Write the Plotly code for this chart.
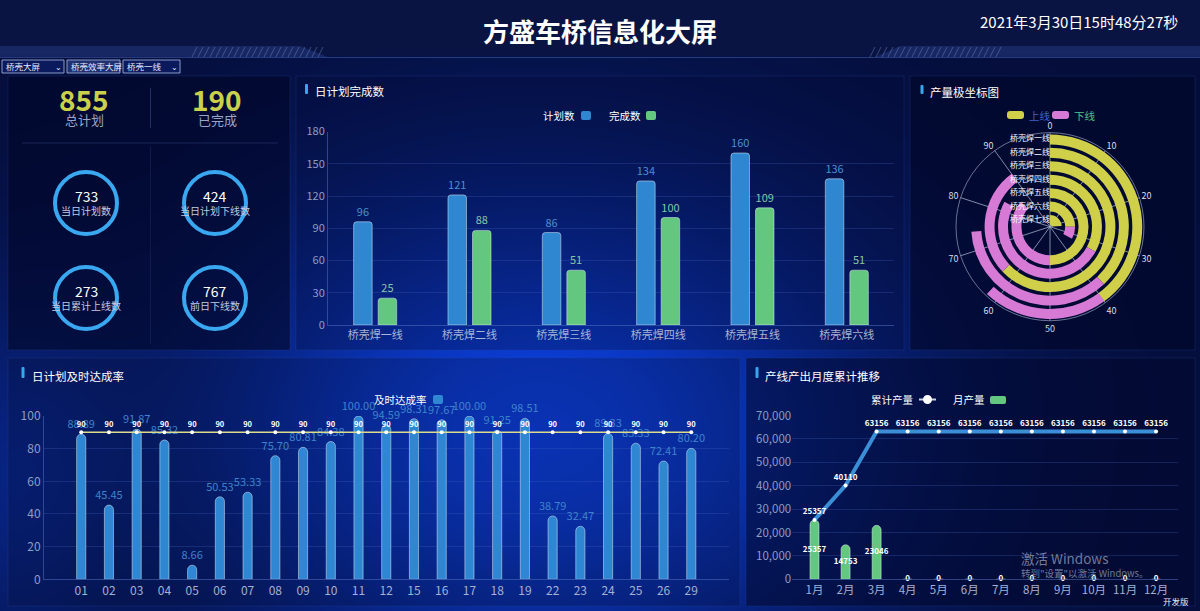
import base64
import struct
import zlib

import numpy as np
import plotly.graph_objects as go

W, H = 1200, 611
FONT = "Noto Sans CJK SC"

# ---------------- data ----------------
title_text = "方盛车桥信息化大屏"
date_text = "2021年3月30日15时48分27秒"
selector_texts = ["桥壳大屏", "桥壳效率大屏", "桥壳一线"]

kpi_top_values = [855, 190]
kpi_top_labels = ["总计划", "已完成"]
kpi_ring_values = [733, 424, 273, 767]
kpi_ring_labels = ["当日计划数", "当日计划下线数", "当日累计上线数", "前日下线数"]

line_names = ["桥壳焊一线", "桥壳焊二线", "桥壳焊三线", "桥壳焊四线", "桥壳焊五线", "桥壳焊六线"]
plan_counts = [96, 121, 86, 134, 160, 136]
done_counts = [25, 88, 51, 100, 109, 51]

polar_names = ["桥壳焊一线", "桥壳焊二线", "桥壳焊三线", "桥壳焊四线", "桥壳焊五线", "桥壳焊六线", "桥壳焊七线"]
polar_up = [40, 38, 63, 33, 50, 25, 24]
polar_down = [22, 36, 27, 50, 36, 8, 0]
polar_angle_ticks = [0, 10, 20, 30, 40, 50, 60, 70, 80, 90]
polar_angle_max = 100

days = ["01", "02", "03", "04", "05", "06", "07", "08", "09", "10", "11", "12",
        "15", "16", "17", "18", "19", "22", "23", "24", "25", "26", "29"]
ontime_rate = [88.89, 45.45, 91.87, 85.32, 8.66, 50.53, 53.33, 75.70, 80.81, 84.38, 100.00, 94.59,
               98.31, 97.67, 100.00, 91.25, 98.51, 38.79, 32.47, 89.33, 83.33, 72.41, 80.20]
target_rate = [90, 90, 90, 90, 90, 90, 90, 90, 90, 90, 90, 90,
               90, 90, 90, 90, 90, 90, 90, 90, 90, 90, 90]

months = ["1月", "2月", "3月", "4月", "5月", "6月", "7月", "8月", "9月", "10月", "11月", "12月"]
monthly_output = [25357, 14753, 23046, 0, 0, 0, 0, 0, 0, 0, 0, 0]
cumulative_output = [25357, 40110, 63156, 63156, 63156, 63156, 63156, 63156, 63156, 63156, 63156, 63156]

# ---------------- helpers ----------------
def fx(x):
    return x / W


def fy(y):
    return 1 - y / H


def png_data_uri(arr):
    h, w, _ = arr.shape
    raw = b"".join(b"\x00" + arr[i].tobytes() for i in range(h))

    def chunk(t, d):
        c = struct.pack(">I", len(d)) + t + d
        return c + struct.pack(">I", zlib.crc32(t + d) & 0xFFFFFFFF)

    png = (b"\x89PNG\r\n\x1a\n"
           + chunk(b"IHDR", struct.pack(">IIBBBBB", w, h, 8, 2, 0, 0, 0))
           + chunk(b"IDAT", zlib.compress(raw, 9))
           + chunk(b"IEND", b""))
    return "data:image/png;base64," + base64.b64encode(png).decode()


# background gradient image (half resolution, stretched)
bh, bw = H // 2, W // 2
yy, xx = np.mgrid[0:bh, 0:bw].astype(float)
px_x = (xx + 0.5) * 2
px_y = (yy + 0.5) * 2
base = np.array([5, 14, 58], float)
glow = np.array([12, 64, 222], float)
w1 = np.exp(-(((px_x - 540) / 340) ** 2 + ((px_y - 430) / 250) ** 2))
w2 = 0.35 * np.exp(-(((px_x - 0) / 120) ** 2 + ((px_y - 480) / 200) ** 2))
wsum = np.clip(w1 + w2, 0, 1)[..., None]
img = base * (1 - wsum) + glow * wsum
header = px_y < 57
img[header] = np.array([10, 20, 66], float)
bg_uri = png_data_uri(np.clip(img, 0, 255).astype(np.uint8))

shapes = []
annotations = []


def rect(x0, y0, x1, y1, fill, line=None, lw=0, layer="below"):
    shapes.append(dict(type="rect", xref="paper", yref="paper",
                       x0=fx(x0), x1=fx(x1), y0=fy(y1), y1=fy(y0),
                       fillcolor=fill, line=dict(color=line or "rgba(0,0,0,0)", width=lw),
                       layer=layer))


def rrect(x0, y0, x1, y1, r, fill, layer="above"):
    X0, X1 = fx(x0), fx(x1)
    Y0, Y1 = fy(y0), fy(y1)
    rx, ry = r / W, r / H
    p = (f"M {X0+rx},{Y0} L {X1-rx},{Y0} Q {X1},{Y0} {X1},{Y0-ry} "
         f"L {X1},{Y1+ry} Q {X1},{Y1} {X1-rx},{Y1} L {X0+rx},{Y1} "
         f"Q {X0},{Y1} {X0},{Y1+ry} L {X0},{Y0-ry} Q {X0},{Y0} {X0+rx},{Y0} Z")
    shapes.append(dict(type="path", xref="paper", yref="paper", path=p,
                       fillcolor=fill, line=dict(width=0), layer=layer))


def hline(x0, x1, y, color, width=1, layer="below"):
    shapes.append(dict(type="line", xref="paper", yref="paper",
                       x0=fx(x0), x1=fx(x1), y0=fy(y), y1=fy(y),
                       line=dict(color=color, width=width), layer=layer))


def vline(x, y0, y1, color, width=1, layer="below"):
    shapes.append(dict(type="line", xref="paper", yref="paper",
                       x0=fx(x), x1=fx(x), y0=fy(y0), y1=fy(y1),
                       line=dict(color=color, width=width), layer=layer))


def text(x, y, s, size=12, color="#ffffff", anchor="center", weight="normal"):
    annotations.append(dict(xref="paper", yref="paper", x=fx(x), y=fy(y), text=s,
                            showarrow=False, xanchor=anchor, yanchor="middle",
                            font=dict(family=FONT, size=size, color=color, weight=weight)))


def circle(cx, cy, r, color, width, fill="rgba(0,0,0,0)"):
    shapes.append(dict(type="circle", xref="paper", yref="paper",
                       xsizemode="pixel", ysizemode="pixel",
                       xanchor=fx(cx), yanchor=fy(cy),
                       x0=-r, x1=r, y0=-r, y1=r,
                       line=dict(color=color, width=width), fillcolor=fill,
                       layer="above"))


# ---------------- header ----------------
text(600, 30, title_text, size=26, color="#ffffff", weight="bold")
text(1079, 22, date_text, size=15, color="#ffffff")
shapes.append(dict(type="path", xref="paper", yref="paper", layer="below",
                   path=f"M 0,{fy(46)} L {fx(300)},{fy(46)} L {fx(328)},{fy(57)} L 0,{fy(57)} Z",
                   fillcolor="rgba(40,62,140,0.45)", line=dict(width=0)))
shapes.append(dict(type="path", xref="paper", yref="paper", layer="below",
                   path=f"M {fx(875)},{fy(57)} L {fx(900)},{fy(46)} L {fx(1200)},{fy(46)} L {fx(1200)},{fy(57)} Z",
                   fillcolor="rgba(40,62,140,0.45)", line=dict(width=0)))
for k in range(22):
    x = 192 + k * 6
    shapes.append(dict(type="line", xref="paper", yref="paper", layer="below",
                       x0=fx(x), x1=fx(x + 5), y0=fy(57), y1=fy(47),
                       line=dict(color="rgba(120,140,200,0.45)", width=1)))
for k in range(22):
    x = 870 + k * 6
    shapes.append(dict(type="line", xref="paper", yref="paper", layer="below",
                       x0=fx(x), x1=fx(x + 5), y0=fy(57), y1=fy(47),
                       line=dict(color="rgba(120,140,200,0.45)", width=1)))
hline(0, 1200, 57.5, "rgba(60,90,170,0.6)", 1)

# selectors
sel_boxes = [(2, 64), (67, 120), (123, 180)]
for (x0, x1), s in zip(sel_boxes, selector_texts):
    fill = "#203070" if s == "桥壳效率大屏" else "#0b1a5c"
    rect(x0, 60, x1, 73, fill, line="#8a9ccc", lw=1, layer="above")
    text(x0 + 2, 66.5, s, size=8.5, color="#e6ecff", anchor="left")
for x1 in (64, 180):
    text(x1 - 6, 66.5, "⌄", size=8, color="#e6ecff")

# ---------------- panels ----------------
rect(8, 76, 290, 350, "rgba(2,6,40,0.62)", line="rgba(40,70,150,0.25)", lw=1)
rect(296, 76, 904, 350, "rgba(3,10,52,0.30)", line="rgba(40,70,150,0.25)", lw=1)
rect(910, 76, 1195, 350, "rgba(2,6,40,0.62)", line="rgba(40,70,150,0.25)", lw=1)
rect(8, 358, 740, 606, "rgba(3,10,52,0.26)", line="rgba(40,70,150,0.25)", lw=1)
rect(746, 358, 1195, 606, "rgba(2,8,44,0.55)", line="rgba(40,70,150,0.25)", lw=1)

# section titles
for (mx, my0, my1, tx, ty, s) in [
    (306.5, 84, 94, 313, 91, "日计划完成数"),
    (922, 85, 94, 928, 91.5, "产量极坐标图"),
    (23, 367, 378, 30, 376, "日计划及时达成率"),
    (757, 367, 378, 763, 376, "产线产出月度累计推移"),
]:
    rrect(mx - 1.5, my0, mx + 1.5, my1, 1, "#3aa6ee")
    text(tx, ty, s, size=11.5, color="#ffffff", anchor="left")

# ---------------- left KPI panel ----------------
for i, (v, lab) in enumerate(zip(kpi_top_values, kpi_top_labels)):
    cx = [84, 217][i]
    text(cx, 99, str(v), size=28, color="#cbd04b", weight="bold")
    text(cx, 120, lab, size=13, color="#9aa6c8")
vline(150.5, 88, 128, "rgba(70,90,150,0.45)")
hline(22, 278, 143, "rgba(70,90,150,0.35)")
vline(150.5, 146, 344, "rgba(70,90,150,0.2)")
ring_pos = [(86, 203), (215, 203), (86, 298), (215, 298)]
for (cx, cy), v, lab in zip(ring_pos, kpi_ring_values, kpi_ring_labels):
    circle(cx, cy, 31, "#3aa8f0", 4)
    text(cx, cy - 7, str(v), size=14, color="#ffffff")
    text(cx, cy + 7, lab, size=10, color="#c2cbe0")

# ---------------- legends (manual) ----------------
text(577, 115.5, "计划数", size=10.5, color="#ffffff", anchor="right")
rrect(581, 111, 591, 120, 2, "#2f87d1")
text(643, 115.5, "完成数", size=10.5, color="#ffffff", anchor="right")
rrect(646, 111, 656, 120, 2, "#63c77f")

text(429, 399.5, "及时达成率", size=10.5, color="#ffffff", anchor="right")
rrect(433, 395, 443, 404, 2, "#2f87d3")

text(916, 399.5, "累计产量", size=10.5, color="#ffffff", anchor="right")
hline(919, 936, 399.5, "#c8d0e4", 2, layer="above")
circle(927.5, 399.5, 3.5, "#ffffff", 2, fill="#ffffff")
text(987, 399.5, "月产量", size=10.5, color="#ffffff", anchor="right")
rrect(990, 396, 1006, 404, 2, "#63c77f")

rrect(1007, 111, 1024, 119, 3, "#cfcf49")
text(1027, 115, "上线", size=10.5, color="#3f63c8", anchor="left")
rrect(1052, 111, 1069, 119, 3, "#d67ad6")
text(1072, 115, "下线", size=10.5, color="#55c08c", anchor="left")

# watermark
text(1019, 558, "激活 Windows", size=13.5, color="rgba(150,160,190,0.75)", anchor="left")
text(1019, 573, "转到\"设置\"以激活 Windows。", size=9.5, color="rgba(150,160,190,0.75)", anchor="left")
text(1176, 601, "开发版", size=8.5, color="#e8ecf8")

# ---------------- figure ----------------
fig = go.Figure()

axis_font = dict(family=FONT, size=11, color="#8f9dc2")
grid_c = "rgba(70,100,190,0.28)"
line_c = "rgba(80,110,190,0.55)"

# Chart 1: 日计划完成数
fig.add_trace(go.Bar(x=line_names, y=plan_counts, name="计划数", marker=dict(color="#2f87d1", cornerradius=3),
                     text=plan_counts, textposition="outside", cliponaxis=False, constraintext="none",
                     textfont=dict(family=FONT, size=11, color="#4a8fd0"),
                     xaxis="x", yaxis="y"))
fig.add_trace(go.Bar(x=line_names, y=done_counts, name="完成数", marker=dict(color="#63c77f", cornerradius=3),
                     text=done_counts, textposition="outside", cliponaxis=False, constraintext="none",
                     textfont=dict(family=FONT, size=11, color="#86c6a6"),
                     xaxis="x", yaxis="y"))

# Chart 2: 日计划及时达成率
fig.add_trace(go.Bar(x=days, y=ontime_rate, width=0.33, marker=dict(color="#2f87d3", cornerradius=5),
                     text=[f"{v:.2f}" for v in ontime_rate], textposition="outside", cliponaxis=False,
                     constraintext="none",
                     textfont=dict(family=FONT, size=11, color="#3f83cc"),
                     xaxis="x2", yaxis="y2"))
fig.add_trace(go.Scatter(x=days, y=target_rate, mode="lines+markers+text",
                         line=dict(color="#dcdc8c", width=1.5),
                         marker=dict(color="#ffffff", size=4),
                         text=target_rate, textposition="top center", cliponaxis=False,
                         textfont=dict(family=FONT, size=7.5, color="#ffffff", weight="bold"),
                         xaxis="x2", yaxis="y2"))

# Chart 3: 产线产出月度累计推移
fig.add_trace(go.Bar(x=months, y=monthly_output, width=0.29, marker=dict(color="#63c77f", cornerradius=5),
                     xaxis="x3", yaxis="y3"))
fig.add_trace(go.Scatter(x=months, y=[v / 2 for v in monthly_output], mode="text",
                         text=monthly_output, textposition="middle center", cliponaxis=False,
                         textfont=dict(family=FONT, size=8, color="#ffffff", weight="bold"),
                         xaxis="x3", yaxis="y3"))
fig.add_trace(go.Scatter(x=months, y=cumulative_output, mode="lines+markers+text",
                         line=dict(color="#3a8fd6", width=4),
                         marker=dict(color="#ffffff", size=4),
                         text=cumulative_output, textposition="top center", cliponaxis=False,
                         textfont=dict(family=FONT, size=8, color="#ffffff", weight="bold"),
                         xaxis="x3", yaxis="y3"))

# Polar chart
deg_per_unit = 360 / polar_angle_max
n_rings = len(polar_names)
ring_index = [n_rings - 1 - i for i in range(n_rings)]  # 一线 outermost
fig.add_trace(go.Barpolar(
    theta=[u * deg_per_unit / 2 for u in polar_up],
    width=[u * deg_per_unit for u in polar_up],
    r=[0.74] * n_rings, base=[k + 0.13 for k in ring_index],
    marker=dict(color="#cfcf49", line=dict(width=0)), subplot="polar", name="上线"))
fig.add_trace(go.Barpolar(
    theta=[(u + d / 2) * deg_per_unit for u, d in zip(polar_up, polar_down)],
    width=[d * deg_per_unit for d in polar_down],
    r=[0.74] * n_rings, base=[k + 0.13 for k in ring_index],
    marker=dict(color="#d67ad6", line=dict(width=0)), subplot="polar", name="下线"))
fig.add_trace(go.Scatterpolar(
    theta=[0] * n_rings, r=[k + 0.5 for k in ring_index], mode="text",
    text=polar_names, textposition="middle left",
    textfont=dict(family=FONT, size=8, color="#ffffff"), subplot="polar"))

fig.update_layout(
    width=W, height=H, margin=dict(l=0, r=0, t=0, b=0, pad=0, autoexpand=False),
    paper_bgcolor="#050e3a", plot_bgcolor="rgba(0,0,0,0)",
    showlegend=False, barmode="group", bargap=0.48, bargroupgap=0.245,
    font=dict(family=FONT, color="#ffffff"),
    images=[dict(source=bg_uri, xref="paper", yref="paper", x=0, y=1, sizex=1, sizey=1,
                 sizing="stretch", layer="below")],
    shapes=shapes, annotations=annotations,
    xaxis=dict(domain=[fx(328), fx(894)], type="category", showgrid=False, automargin=False,
               showline=True, linecolor=line_c, tickfont=dict(family=FONT, size=11, color="#a9b5d6"),
               anchor="y", fixedrange=True),
    yaxis=dict(domain=[fy(325), fy(131.5)], range=[0, 180], dtick=30, gridcolor=grid_c, automargin=False,
               showline=True, linecolor=line_c, zeroline=False, tickfont=axis_font,
               anchor="x", fixedrange=True),
    xaxis2=dict(domain=[fx(44), fx(728.5)], type="category", showgrid=False, automargin=False,
                showline=True, linecolor=line_c, tickfont=dict(family=FONT, size=12, color="#a3b1d4"),
                anchor="y2", fixedrange=True),
    yaxis2=dict(domain=[fy(579.3), fy(416)], range=[0, 100], dtick=20, gridcolor=grid_c, automargin=False,
                showline=True, linecolor=line_c, zeroline=False,
                tickfont=dict(family=FONT, size=12, color="#8f9dc2"),
                anchor="x2", fixedrange=True),
    xaxis3=dict(domain=[fx(792.2), fx(1178.4)], type="category", showgrid=False, automargin=False,
                showline=True, linecolor=line_c, tickfont=dict(family=FONT, size=11.5, color="#a3b1d4"),
                anchor="y3", fixedrange=True),
    yaxis3=dict(domain=[fy(579.3), fy(415.5)], range=[0, 70000], dtick=10000, tickformat=",d",
                gridcolor=grid_c, showline=False, zeroline=False, automargin=False,
                tickfont=dict(family=FONT, size=11.5, color="#8f9dc2"),
                anchor="x3", fixedrange=True),
    polar=dict(
        domain=dict(x=[fx(956), fx(1144)], y=[fy(320.7), fy(132.7)]),
        bgcolor="rgba(0,0,0,0)",
        angularaxis=dict(rotation=90, direction="clockwise",
                         tickvals=[t * deg_per_unit for t in polar_angle_ticks],
                         ticktext=[str(t) for t in polar_angle_ticks],
                         showgrid=True, gridcolor="rgba(170,180,205,0.75)", gridwidth=1,
                         showline=True, linecolor="rgba(130,140,170,0.8)", linewidth=1,
                         ticks="", tickfont=dict(family=FONT, size=9, color="#d8deec")),
        radialaxis=dict(range=[0, n_rings], showgrid=False, showline=False,
                        showticklabels=False, ticks=""),
        barmode="overlay",
    ),
)

fig.write_html("out.html", config={"displayModeBar": False},
               post_script=("document.documentElement.style.margin='0';"
                            "document.body.style.margin='0';document.body.style.padding='0';"
                            "document.documentElement.style.background='#050e3a';"
                            "document.body.style.background='#050e3a';"
                            "document.body.style.overflow='hidden';window.scrollTo(0,0);"))
